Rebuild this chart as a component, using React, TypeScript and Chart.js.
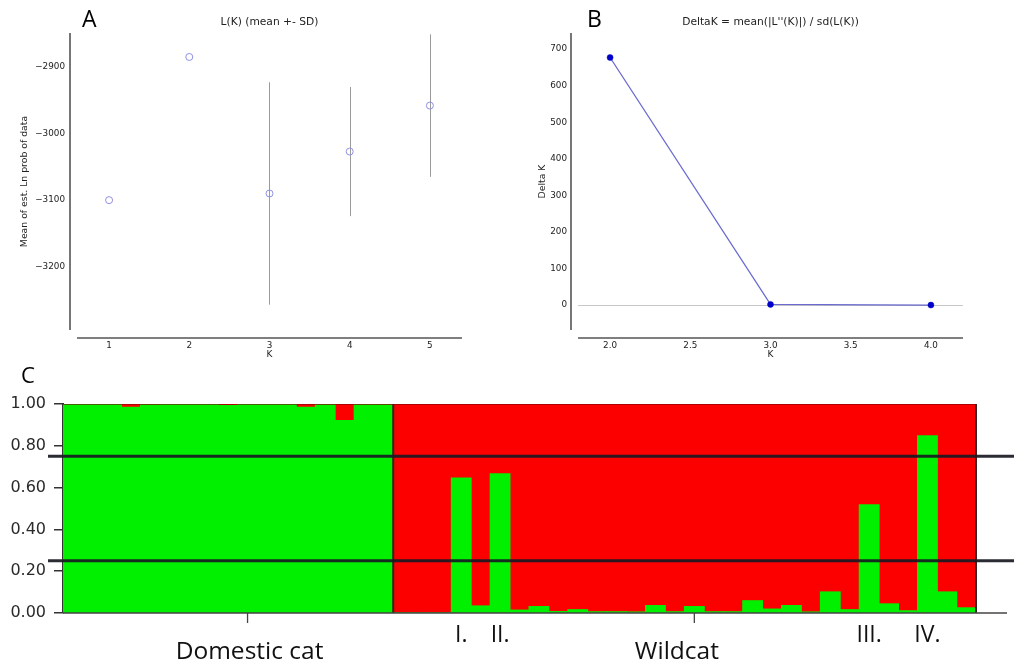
import React, { useEffect, useRef } from "react";
import { Chart, registerables } from "chart.js";

Chart.register(...registerables);

// ---------- Panel A: L(K) mean +- SD ----------
const kA = [1, 2, 3, 4, 5];
const meanLnP = [-3100, -2885, -3090, -3027, -2958];
const sdLnP = [0, 0, 167, 97, 107];
const xTicksA = [1, 2, 3, 4, 5];
const yTicksA = [-3200, -3100, -3000, -2900];

// ---------- Panel B: Delta K ----------
const kB = [2, 3, 4];
const deltaK = [677, 2, 0.2];
const xTicksB = [2.0, 2.5, 3.0, 3.5, 4.0];
const yTicksB = [0, 100, 200, 300, 400, 500, 600, 700];

// ---------- Panel C: STRUCTURE K=2 membership (green cluster) ----------
const domesticQ = [
  0.997, 0.997, 0.997, 0.984, 0.996, 0.997, 0.997, 0.997, 0.992, 0.997,
  0.997, 0.997, 0.984, 0.996, 0.92, 0.995, 0.995,
];
const wildQ = [
  0, 0, 0, 0.645, 0.033, 0.665, 0.013, 0.03, 0.006, 0.015,
  0.005, 0.005, 0.004, 0.035, 0.005, 0.03, 0.005, 0.005, 0.058, 0.018,
  0.035, 0.004, 0.1, 0.015, 0.517, 0.043, 0.01, 0.847, 0.1, 0.024,
];
const yTicksC = [0, 0.2, 0.4, 0.6, 0.8, 1.0];
const thresholds = [0.75, 0.25];
const groupTicks = [9, 32];
const groupLabels = [
  { text: "Domestic cat", at: 9 },
  { text: "Wildcat", at: 31 },
];
const hybridLabels = [
  { text: "I.", at: 20 },
  { text: "II.", at: 22 },
  { text: "III.", at: 41 },
  { text: "IV.", at: 44 },
];

const DV = '"DejaVu Sans", sans-serif';
const OS = '"Open Sans", sans-serif';
const TXT = "#222";

function panelTextPlugin(letter: string, letterX: number, title: string, yTitle: string, yTitleX: number) {
  return {
    id: "panelText" + letter,
    afterDraw(chart: any) {
      const { ctx, chartArea } = chart;
      const { left, right, top, bottom } = chartArea;
      ctx.save();
      // spines (offset like matplotlib)
      ctx.strokeStyle = "#555";
      ctx.lineWidth = 1.6;
      ctx.beginPath();
      ctx.moveTo(left - 7, top);
      ctx.lineTo(left - 7, bottom);
      ctx.moveTo(left, bottom + 8);
      ctx.lineTo(right, bottom + 8);
      ctx.stroke();
      // letter
      ctx.fillStyle = "#000";
      ctx.font = `23px ${OS}`;
      ctx.textAlign = "left";
      ctx.textBaseline = "alphabetic";
      ctx.fillText(letter, letterX, 27);
      // title
      ctx.fillStyle = TXT;
      ctx.font = `10.7px ${DV}`;
      ctx.textAlign = "center";
      ctx.textBaseline = "middle";
      ctx.fillText(title, (left + right) / 2, 22);
      // x title
      ctx.font = `9px ${DV}`;
      ctx.fillText("K", (left + right) / 2, 355);
      // y title
      ctx.translate(yTitleX, (top + bottom) / 2);
      ctx.rotate(-Math.PI / 2);
      ctx.font = `9.3px ${DV}`;
      ctx.fillText(yTitle, 0, 0);
      ctx.restore();
    },
  };
}

const errorBarPlugin = {
  id: "errorBars",
  beforeDatasetsDraw(chart: any) {
    const { ctx } = chart;
    const xs = chart.scales.x;
    const ys = chart.scales.y;
    ctx.save();
    ctx.strokeStyle = "#9a9a9a";
    ctx.lineWidth = 1;
    kA.forEach((k, i) => {
      if (sdLnP[i] <= 0) return;
      const x = Math.round(xs.getPixelForValue(k)) + 0.5;
      ctx.beginPath();
      ctx.moveTo(x, ys.getPixelForValue(meanLnP[i] + sdLnP[i]));
      ctx.lineTo(x, ys.getPixelForValue(meanLnP[i] - sdLnP[i]));
      ctx.stroke();
    });
    ctx.restore();
  },
};

const zeroLinePlugin = {
  id: "zeroLine",
  beforeDatasetsDraw(chart: any) {
    const { ctx, chartArea } = chart;
    const y = Math.round(chart.scales.y.getPixelForValue(0)) + 0.5;
    ctx.save();
    ctx.strokeStyle = "#c8c8c8";
    ctx.lineWidth = 1;
    ctx.beginPath();
    ctx.moveTo(chartArea.left, y);
    ctx.lineTo(chartArea.right, y);
    ctx.stroke();
    ctx.restore();
  },
};

const structurePlugin = {
  id: "structure",
  afterDatasetsDraw(chart: any) {
    const { ctx, chartArea, width } = chart;
    const xs = chart.scales.x;
    const ys = chart.scales.y;
    const { left, right, top, bottom } = chartArea;
    ctx.save();
    // group outlines
    const divX = (xs.getPixelForValue(domesticQ.length - 1) + xs.getPixelForValue(domesticQ.length)) / 2;
    ctx.strokeStyle = "#3a2020";
    ctx.lineWidth = 2;
    ctx.beginPath();
    ctx.moveTo(divX, top);
    ctx.lineTo(divX, bottom);
    ctx.moveTo(right, top);
    ctx.lineTo(right, bottom);
    ctx.stroke();
    ctx.strokeStyle = "rgba(120,0,0,0.6)";
    ctx.lineWidth = 1;
    ctx.beginPath();
    ctx.moveTo(left, top + 0.5);
    ctx.lineTo(right, top + 0.5);
    ctx.stroke();
    // threshold lines
    ctx.strokeStyle = "rgba(25,25,35,0.92)";
    ctx.lineWidth = 3;
    thresholds.forEach((t) => {
      const y = ys.getPixelForValue(t);
      ctx.beginPath();
      ctx.moveTo(left - 15, y);
      ctx.lineTo(width, y);
      ctx.stroke();
    });
    // x axis line
    ctx.strokeStyle = "#444";
    ctx.lineWidth = 1.6;
    ctx.beginPath();
    ctx.moveTo(left, bottom);
    ctx.lineTo(right + 31, bottom);
    ctx.stroke();
    // group ticks
    ctx.lineWidth = 1.3;
    groupTicks.forEach((i) => {
      const x = xs.getPixelForValue(i);
      ctx.beginPath();
      ctx.moveTo(x, bottom);
      ctx.lineTo(x, bottom + 10);
      ctx.stroke();
    });
    // labels
    ctx.fillStyle = "#111";
    ctx.textAlign = "center";
    ctx.textBaseline = "alphabetic";
    ctx.font = `23px ${OS}`;
    hybridLabels.forEach((l) => {
      ctx.fillText(l.text, xs.getPixelForValue(l.at), bottom + 29);
    });
    ctx.font = `24.5px ${OS}`;
    groupLabels.forEach((l) => {
      ctx.fillText(l.text, xs.getPixelForValue(l.at) + 2, bottom + 46);
    });
    // panel letter
    ctx.fillStyle = "#000";
    ctx.textAlign = "left";
    ctx.font = `22px ${OS}`;
    ctx.fillText("C", 21, 18);
    ctx.restore();
  },
};

export default function App() {
  const refA = useRef<HTMLCanvasElement>(null);
  const refB = useRef<HTMLCanvasElement>(null);
  const refC = useRef<HTMLCanvasElement>(null);

  useEffect(() => {
    const tickFont = { family: DV, size: 8.8 };

    const chartA = new Chart(refA.current as HTMLCanvasElement, {
      type: "scatter",
      data: {
        datasets: [
          {
            data: kA.map((k, i) => ({ x: k, y: meanLnP[i] })),
            pointRadius: 3.5,
            pointBorderColor: "#8f8fe0",
            pointBackgroundColor: "rgba(0,0,0,0)",
            pointBorderWidth: 1,
            showLine: false,
          },
        ],
      },
      options: {
        responsive: false,
        animation: false,
        events: [],
        layout: { padding: { top: 33, right: 28, left: 0, bottom: 0 } },
        plugins: { legend: { display: false }, tooltip: { enabled: false }, title: { display: false } },
        scales: {
          x: {
            type: "linear",
            min: 0.6,
            max: 5.4,
            afterBuildTicks: (s: any) => {
              s.ticks = xTicksA.map((v) => ({ value: v }));
            },
            afterFit: (s: any) => {
              s.height = 35;
            },
            grid: { display: false, drawTicks: false },
            border: { display: false },
            ticks: { padding: 10, font: tickFont, color: TXT, autoSkip: false, maxRotation: 0, callback: (v: any) => String(v) },
          },
          y: {
            type: "linear",
            min: -3295,
            max: -2849,
            afterBuildTicks: (s: any) => {
              s.ticks = yTicksA.map((v) => ({ value: v }));
            },
            afterFit: (s: any) => {
              s.width = 77;
            },
            grid: { display: false, drawTicks: false },
            border: { display: false },
            ticks: { padding: 12, font: tickFont, color: TXT, autoSkip: false, callback: (v: any) => "\u2212" + Math.abs(v) },
          },
        },
      } as any,
      plugins: [errorBarPlugin, panelTextPlugin("A", 82, "L(K) (mean +- SD)", "Mean of est. Ln prob of data", 25)],
    });

    const chartB = new Chart(refB.current as HTMLCanvasElement, {
      type: "scatter",
      data: {
        datasets: [
          {
            data: kB.map((k, i) => ({ x: k, y: deltaK[i] })),
            showLine: true,
            borderColor: "rgba(80,80,200,0.85)",
            borderWidth: 1.3,
            pointRadius: 3,
            pointBackgroundColor: "#0000c8",
            pointBorderColor: "#0000c8",
            pointBorderWidth: 0.5,
          },
        ],
      },
      options: {
        responsive: false,
        animation: false,
        events: [],
        layout: { padding: { top: 33, right: 51, left: 0, bottom: 0 } },
        plugins: { legend: { display: false }, tooltip: { enabled: false }, title: { display: false } },
        scales: {
          x: {
            type: "linear",
            min: 1.8,
            max: 4.2,
            afterBuildTicks: (s: any) => {
              s.ticks = xTicksB.map((v) => ({ value: v }));
            },
            afterFit: (s: any) => {
              s.height = 35;
            },
            grid: { display: false, drawTicks: false },
            border: { display: false },
            ticks: { padding: 10, font: tickFont, color: TXT, autoSkip: false, maxRotation: 0, callback: (v: any) => Number(v).toFixed(1) },
          },
          y: {
            type: "linear",
            min: -68,
            max: 744,
            afterBuildTicks: (s: any) => {
              s.ticks = yTicksB.map((v) => ({ value: v }));
            },
            afterFit: (s: any) => {
              s.width = 88;
            },
            grid: { display: false, drawTicks: false },
            border: { display: false },
            ticks: { padding: 11, font: tickFont, color: TXT, autoSkip: false, callback: (v: any) => String(v) },
          },
        },
      } as any,
      plugins: [zeroLinePlugin, panelTextPlugin("B", 97, "DeltaK = mean(|L''(K)|) / sd(L(K))", "Delta K", 53)],
    });

    const allQ = [...domesticQ, ...wildQ];
    const chartC = new Chart(refC.current as HTMLCanvasElement, {
      type: "bar",
      data: {
        labels: allQ.map((_, i) => String(i + 1)),
        datasets: [
          {
            data: allQ,
            backgroundColor: "#00f000",
            borderWidth: 0,
            inflateAmount: 0.7,
            barPercentage: 1,
            categoryPercentage: 1,
          },
          {
            data: allQ.map((q) => 1 - q),
            backgroundColor: "#fc0000",
            borderWidth: 0,
            inflateAmount: 0.7,
            barPercentage: 1,
            categoryPercentage: 1,
          },
        ],
      },
      options: {
        responsive: false,
        animation: false,
        events: [],
        layout: { padding: { top: 39, right: 38, left: 0, bottom: 0 } },
        plugins: { legend: { display: false }, tooltip: { enabled: false }, title: { display: false } },
        scales: {
          x: {
            stacked: true,
            afterFit: (s: any) => {
              s.height = 51;
            },
            grid: { display: false, drawTicks: false },
            border: { display: false },
            ticks: { display: false },
          },
          y: {
            stacked: true,
            min: 0,
            max: 1,
            afterBuildTicks: (s: any) => {
              s.ticks = yTicksC.map((v) => ({ value: v }));
            },
            afterFit: (s: any) => {
              s.width = 63;
            },
            grid: { drawOnChartArea: false, drawTicks: true, tickLength: 9, color: "#333", lineWidth: 1.5 },
            border: { display: true, color: "#333", width: 2 },
            ticks: { padding: 8, font: { family: DV, size: 16 }, color: "#2a2a2a", autoSkip: false, callback: (v: any) => Number(v).toFixed(2) },
          },
        },
      } as any,
      plugins: [structurePlugin],
    });

    return () => {
      chartA.destroy();
      chartB.destroy();
      chartC.destroy();
    };
  }, []);

  return (
    <div style={{ position: "absolute", left: 0, top: 0, width: 1014, height: 664, background: "#fff", overflow: "hidden" }}>
      <canvas ref={refA} width={490} height={365} style={{ position: "absolute", left: 0, top: 0 }} />
      <canvas ref={refB} width={524} height={365} style={{ position: "absolute", left: 490, top: 0 }} />
      <canvas ref={refC} width={1014} height={299} style={{ position: "absolute", left: 0, top: 365 }} />
    </div>
  );
}
